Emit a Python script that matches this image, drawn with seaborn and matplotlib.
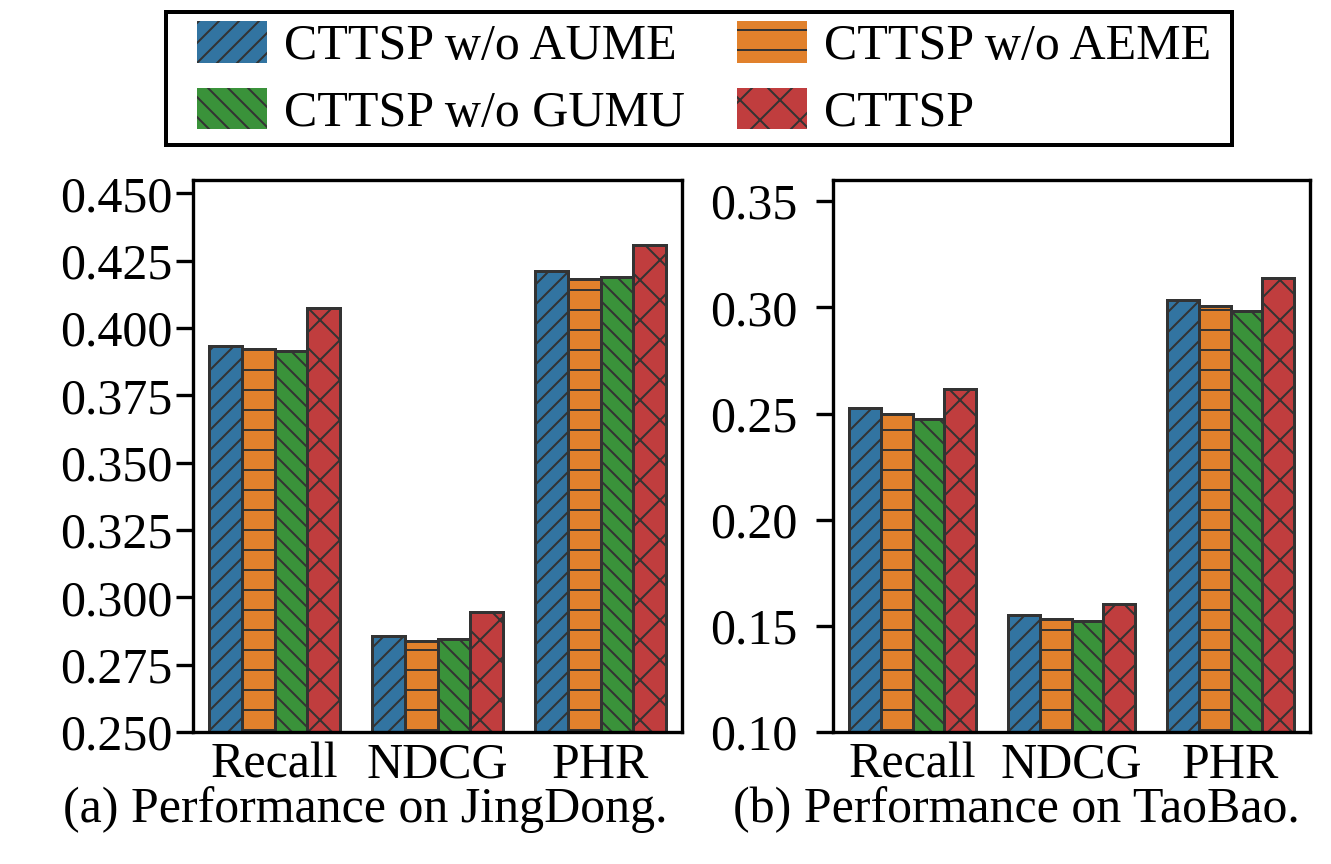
import numpy as np
import pandas as pd
import seaborn as sns
import matplotlib
matplotlib.use("Agg")
import matplotlib.pyplot as plt
import matplotlib.patches as mpatches
from matplotlib.ticker import FormatStrFormatter, MultipleLocator

metrics = ["Recall", "NDCG", "PHR"]
models = ["CTTSP w/o AUME", "CTTSP w/o AEME", "CTTSP w/o GUMU", "CTTSP"]

# JingDong values (rows: models, cols: metrics)
jd_aume = [0.3932, 0.2856, 0.4212]
jd_aeme = [0.3922, 0.2837, 0.4181]
jd_gumu = [0.3916, 0.2844, 0.4191]
jd_full = [0.4074, 0.2945, 0.4307]

# TaoBao values
tb_aume = [0.2525, 0.1549, 0.3035]
tb_aeme = [0.2500, 0.1533, 0.3005]
tb_gumu = [0.2476, 0.1524, 0.2985]
tb_full = [0.2614, 0.1602, 0.3139]

captions = ["(a) Performance on JingDong.", "(b) Performance on TaoBao."]
hatches = ["////", "--", "\\\\\\\\", "xx"]

sns.set_style("ticks")
plt.rcParams["font.family"] = ["Liberation Serif", "DejaVu Serif"]
plt.rcParams["hatch.linewidth"] = 0.6
plt.rcParams["hatch.color"] = "#333333"
plt.rcParams["axes.linewidth"] = 1.0
plt.rcParams["axes.edgecolor"] = "black"
plt.rcParams["text.color"] = "black"
plt.rcParams["xtick.color"] = "black"
plt.rcParams["ytick.color"] = "black"
plt.rcParams["axes.labelcolor"] = "black"


def make_df(rows):
    recs = []
    for m, vals in zip(models, rows):
        for met, v in zip(metrics, vals):
            recs.append({"metric": met, "model": m, "value": v})
    return pd.DataFrame(recs)


dfs = [make_df([jd_aume, jd_aeme, jd_gumu, jd_full]),
       make_df([tb_aume, tb_aeme, tb_gumu, tb_full])]

W, H = 1331, 864
dpi = 240
fig = plt.figure(figsize=(W / dpi, H / dpi), dpi=dpi)
ax1 = fig.add_axes([193 / W, 1 - 732 / H, (682 - 193) / W, (732 - 180) / H])
ax2 = fig.add_axes([833 / W, 1 - 732 / H, (1310 - 833) / W, (732 - 180) / H])

palette = sns.color_palette("tab10", 4)
fs = 15
for ax, df, ypad in zip([ax1, ax2], dfs, [1, 5.5]):
    sns.barplot(data=df, x="metric", y="value", hue="model", hue_order=models,
                order=metrics, palette=palette, edgecolor="#333333",
                linewidth=0.9, legend=False, ax=ax, errorbar=None)
    for cont, h in zip(ax.containers, hatches):
        for p in cont.patches:
            p.set_hatch(h)
    ax.set_xlabel("")
    ax.set_ylabel("")
    ax.set_xlim(-0.5, 2.5)
    ax.tick_params(axis="x", length=0, pad=3, labelsize=fs)
    ax.tick_params(axis="y", length=5, width=1.0, pad=ypad, labelsize=fs)
    for s in ax.spines.values():
        s.set_visible(True)
        s.set_linewidth(1.0)
        s.set_color("black")

ax1.set_ylim(0.25, 0.455)
ax1.yaxis.set_major_locator(MultipleLocator(0.025))
ax1.yaxis.set_major_formatter(FormatStrFormatter("%.3f"))
ax2.set_ylim(0.10, 0.36)
ax2.yaxis.set_major_locator(MultipleLocator(0.05))
ax2.yaxis.set_major_formatter(FormatStrFormatter("%.2f"))

fig.text(365 / W, 1 - 822 / H, captions[0], ha="center", va="baseline", fontsize=fs)
fig.text(1016 / W, 1 - 822 / H, captions[1], ha="center", va="baseline", fontsize=fs)

bar_colors = [cont.patches[0].get_facecolor() for cont in ax1.containers]
handles = [mpatches.Patch(facecolor=c, edgecolor="#333333", hatch=h, linewidth=0)
           for c, h in zip(bar_colors, hatches)]
order = [0, 2, 1, 3]
leg = fig.legend([handles[i] for i in order], [models[i] for i in order],
                 loc="center", bbox_to_anchor=(704 / W, 1 - 79 / H),
                 ncol=2, fontsize=fs, frameon=False,
                 handlelength=1.4, handleheight=0.9,
                 columnspacing=1.05, labelspacing=0.35, handletextpad=0.33,
                 borderpad=0.0, borderaxespad=0.0)

# legend frame box
box = mpatches.Rectangle((166 / W, 1 - 145 / H), (1232 - 166) / W, (145 - 12) / H,
                         transform=fig.transFigure, fill=False,
                         edgecolor="black", linewidth=1.2, zorder=0)
fig.add_artist(box)

fig.savefig("out.png", dpi=dpi)
